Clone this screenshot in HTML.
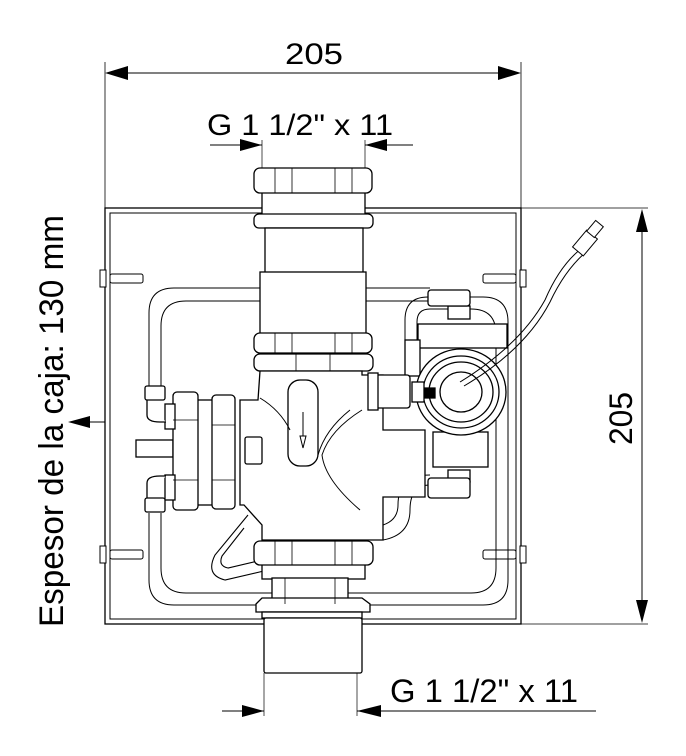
<!DOCTYPE html>
<html><head><meta charset="utf-8"><style>
html,body{margin:0;padding:0;background:#fff;}
svg{display:block;}
text{font-family:"Liberation Sans",sans-serif;fill:#000;}
</style></head><body>
<svg width="686" height="756" viewBox="0 0 686 756" xmlns="http://www.w3.org/2000/svg">
<defs>
<marker id="a" viewBox="0 0 20 10" refX="20" refY="5" markerWidth="20" markerHeight="10" markerUnits="userSpaceOnUse" orient="auto"><path d="M0,0L20,5L0,10z" fill="#000"/></marker>
</defs>
<g stroke="#000" fill="none" stroke-width="1">
<!-- top dimension -->
<line x1="105" y1="62" x2="105" y2="208" stroke-width="0.8"/>
<line x1="521" y1="62" x2="521" y2="208" stroke-width="0.8"/>
<line x1="125" y1="73" x2="501" y2="73"/>
<path d="M105,73L128,66L128,80z M521,73L498,66L498,80z" fill="#000" stroke="none"/>
<!-- G top arrows -->
<line x1="210" y1="145" x2="262" y2="145"/>
<path d="M262,145L240,139L240,151z" fill="#000" stroke="none"/>
<line x1="365" y1="145" x2="413" y2="145"/>
<path d="M365,145L387,139L387,151z" fill="#000" stroke="none"/>
<line x1="262" y1="140" x2="262" y2="168" stroke-width="0.7"/>
<line x1="365" y1="140" x2="365" y2="168" stroke-width="0.7"/>
<!-- right dimension -->
<line x1="521" y1="208" x2="648" y2="208" stroke-width="0.8"/>
<line x1="521" y1="624" x2="648" y2="624" stroke-width="0.8"/>
<line x1="642" y1="225" x2="642" y2="608"/>
<path d="M642,209L636,232L648,232z M642,623L636,600L648,600z" fill="#000" stroke="none"/>
<!-- left arrow -->
<line x1="90" y1="422" x2="105" y2="422"/>
<path d="M68,422L90,416L90,428z" fill="#000" stroke="none"/>
<!-- bottom dimension -->
<line x1="264" y1="673" x2="264" y2="716" stroke-width="0.7"/>
<line x1="357" y1="673" x2="357" y2="716" stroke-width="0.7"/>
<line x1="222" y1="711" x2="264" y2="711"/>
<path d="M264,711L242,705L242,717z" fill="#000" stroke="none"/>
<line x1="357" y1="711" x2="596" y2="711"/>
<path d="M357,711L381,705L381,717z" fill="#000" stroke="none"/>

<!-- box -->
<rect x="105" y="208" width="416" height="416" stroke-width="1.3"/>
<rect x="110" y="213" width="406" height="406"/>
<!-- tabs -->
<g fill="#fff">
<rect x="110" y="274" width="33" height="9" rx="2"/><rect x="110" y="550" width="33" height="9" rx="2"/>
<rect x="483" y="274" width="33" height="9" rx="2"/><rect x="483" y="550" width="33" height="9" rx="2"/>
<rect x="100" y="270" width="6" height="17"/><rect x="100" y="546" width="6" height="17"/>
<rect x="520" y="270" width="6" height="17"/><rect x="520" y="546" width="6" height="17"/>
</g>
<!-- pipe loop -->
<path d="M149,388 V313 Q149,288 174,288 H430"/>
<path d="M161,388 V326 Q161,301 186,301 H430"/>
<path d="M149,513 V580 Q149,605 174,605 H483 Q508,605 508,580 V322 Q508,297 483,297 H470"/>
<path d="M161,513 V568 Q161,593 186,593 H471 Q496,593 496,568 V334 Q496,309 471,309 H470"/>
<path d="M405,340 V320 Q405,297 428,297 H450 M417,340 V322 Q417,309 430,309 H450"/>
<!-- lower right hose -->
<path d="M383,540 Q410,535 410,510 Q410,485 430,485 M383,525 Q398,520 398,505 Q398,475 430,475"/>
<!-- left-bottom hose loop -->
<path d="M248,515 L215,555 Q205,575 225,580 L268,570 M244,528 L222,556 Q218,566 228,568 L262,560" stroke-width="1.1"/>

<g fill="#fff" stroke-width="1.3">
<!-- top nut & pipes -->
<rect x="262" y="190" width="103" height="26"/>
<rect x="254" y="168" width="118" height="25" rx="6"/>
<rect x="254" y="214" width="119" height="14" rx="5"/>
<rect x="265" y="228" width="98" height="46"/>
<rect x="260" y="272" width="106" height="62"/>
<rect x="254" y="333" width="118" height="20" rx="6"/>
<rect x="254" y="354" width="119" height="17" rx="6"/>
<!-- main body -->
<path d="M260,371 H362 V375 H383 V430 H425 V497 H383 V540 H262 V525 L244,505 H240 V400 H258 Z"/>
<!-- bottom -->
<rect x="262" y="563" width="103" height="16"/>
<rect x="272" y="578" width="76" height="26"/>
<rect x="254" y="541" width="119" height="24" rx="6"/>
<path d="M256,604 L262,598 H362 L370,604 V612 H256 Z"/>
<rect x="262" y="612" width="100" height="6"/>
<rect x="264" y="618" width="98" height="55" rx="2"/>
<!-- left flange -->
<rect x="136" y="440" width="37" height="17"/>
<rect x="197" y="400" width="16" height="105"/>
<rect x="173" y="392" width="25" height="118" rx="4"/>
<rect x="212" y="395" width="23" height="114" rx="4"/>
<rect x="165" y="404" width="10" height="25"/><rect x="165" y="475" width="10" height="25"/>
<rect x="145" y="386" width="20" height="14" rx="2"/><rect x="145" y="498" width="20" height="14" rx="2"/>
<path d="M147,400 V415 Q147,422 160,422 H166 M147,498 V483 Q147,476 160,476 H166"/>
<!-- right components -->
<rect x="418" y="324" width="89" height="24"/>
<rect x="448" y="306" width="22" height="13"/>
<rect x="428" y="290" width="42" height="16" rx="3"/>
<rect x="433" y="432" width="55" height="35"/>
<rect x="448" y="470" width="22" height="12"/>
<rect x="428" y="478" width="42" height="20" rx="3"/>
<rect x="405" y="340" width="15" height="36"/>
<rect x="370" y="375" width="40" height="33" rx="3"/>
<rect x="368" y="373" width="10" height="37"/>
<ellipse cx="461" cy="392" rx="45" ry="43"/>
<ellipse cx="461" cy="392" rx="38" ry="36" fill="none"/>
<ellipse cx="461" cy="392" rx="32" ry="30" fill="none"/>
<ellipse cx="461" cy="392" rx="21" ry="20"/>
<rect x="412" y="382" width="12" height="20"/>
<path d="M424,388 H435 V398 H424" fill="#000"/>
<!-- window -->
<rect x="288" y="380" width="30" height="86" rx="12"/>
<rect x="245" y="437" width="17" height="27" rx="2"/>
</g>
<!-- arrow in window -->
<line x1="303" y1="412" x2="303" y2="440"/>
<path d="M300,436L303,448L306,436z" fill="#fff"/>
<!-- body curves -->
<path d="M260,398 Q280,410 290,430 M362,410 Q330,430 322,455 Q325,480 360,510 M350,410 Q325,430 318,455"/>
<!-- nut facets -->
<path d="M275,168V193M292,168V193M335,168V193M352,168V193 M275,333V353M292,333V353M335,333V353M352,333V353 M275,541V565M292,541V565M335,541V565M352,541V565 M296,354V371M330,354V371 M285,578V604M335,578V604" stroke-width="0.8"/>
<path d="M173,420H198M173,480H198M212,425H235M212,480H235" stroke-width="0.8"/>
<!-- cable -->
<path d="M460,382 Q520,345 545,300 Q560,265 582,248 M464,386 Q525,350 550,302 Q565,270 586,252" stroke-width="1"/>
<rect x="578" y="232" width="14" height="22" transform="rotate(40 585 243)" fill="#fff"/>
<rect x="590" y="222" width="10" height="14" transform="rotate(40 595 229)" fill="#fff"/>
</g>

<text x="285" y="64" font-size="30" textLength="58" lengthAdjust="spacingAndGlyphs">205</text>
<text x="207" y="135" font-size="30" textLength="186" lengthAdjust="spacingAndGlyphs">G 1 1/2" x 11</text>
<text x="390" y="702" font-size="32" textLength="188" lengthAdjust="spacingAndGlyphs">G 1 1/2" x 11</text>
<text transform="translate(632,445) rotate(-90)" font-size="32" textLength="53" lengthAdjust="spacingAndGlyphs">205</text>
<text transform="translate(63,627) rotate(-90)" font-size="34" textLength="412" lengthAdjust="spacingAndGlyphs">Espesor de la caja: 130 mm</text>
</svg>
</body></html>
